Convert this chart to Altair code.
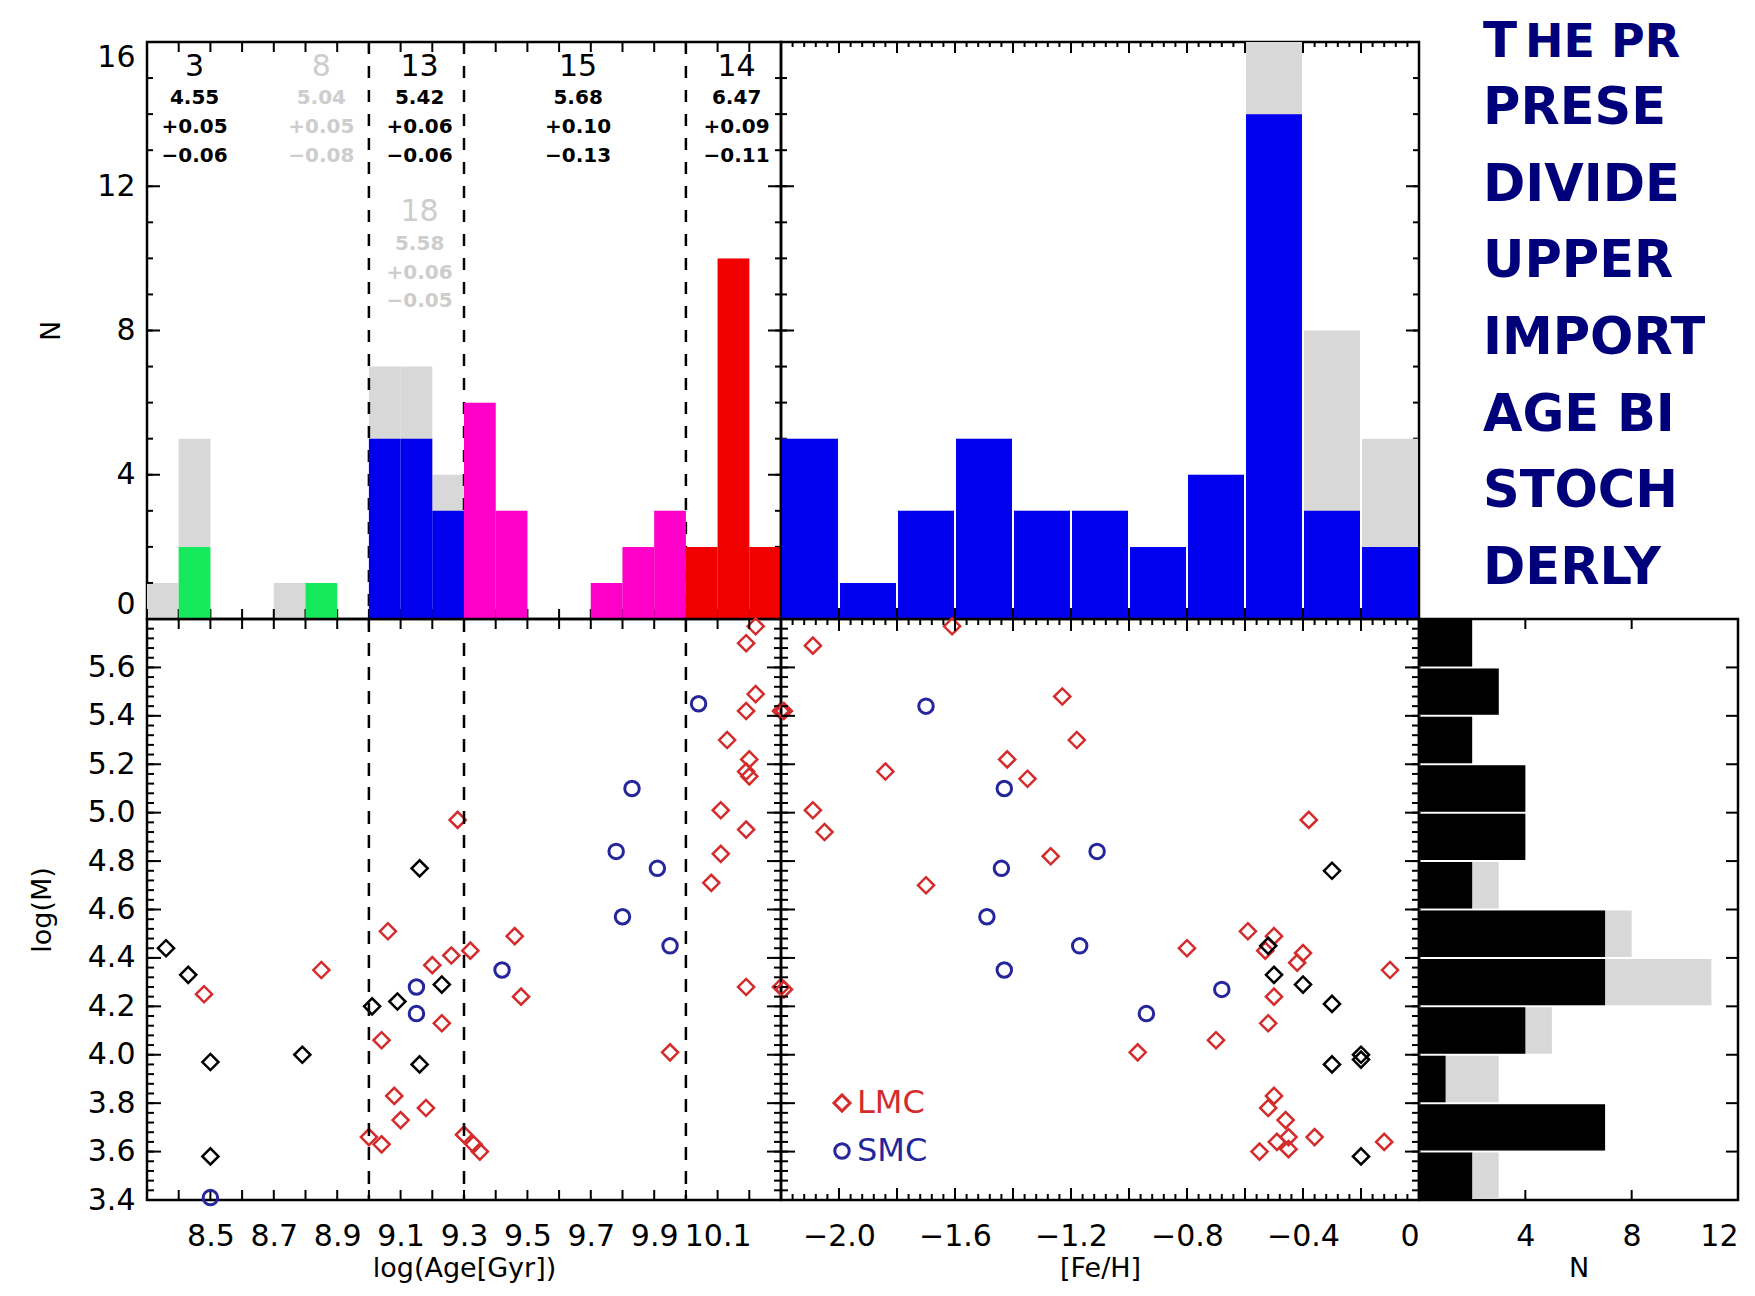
import altair as alt
import numpy as np
import pandas as pd

FONT = "DejaVu Sans"
GRAY = "#d8d8d8"
BLUE = "#0000ee"
RED_PT = "#d42c2c"
BLUE_PT = "#26269c"
NAVY = "#00007a"

# ---------------- age histogram (top left) ----------------
age_bin_lo = [8.3, 8.4, 8.5, 8.6, 8.7, 8.8, 8.9, 9.0, 9.1, 9.2,
              9.3, 9.4, 9.5, 9.6, 9.7, 9.8, 9.9, 10.0, 10.1, 10.2]
age_all_n = [1, 5, 0, 0, 1, 1, 0, 7, 7, 4, 6, 3, 0, 0, 1, 2, 3, 2, 10, 2]
age_sel_n = [0, 2, 0, 0, 0, 1, 0, 5, 5, 3, 6, 3, 0, 0, 1, 2, 3, 2, 10, 2]
age_group = ["young"] * 7 + ["inter"] * 3 + ["old"] * 7 + ["oldest"] * 3
group_names = ["young", "inter", "old", "oldest"]
group_colors = ["#14ea5c", "#0000ee", "#ff00c8", "#f20000"]
age_bounds = [9.0, 9.3, 10.0]

# annotations in the age histogram
ann_age = [8.45, 8.85, 9.16, 9.16, 9.66, 10.16]
ann_n = ["3", "8", "13", "18", "15", "14"]
ann_mass = ["4.55", "5.04", "5.42", "5.58", "5.68", "6.47"]
ann_plus = ["+0.05", "+0.05", "+0.06", "+0.06", "+0.10", "+0.09"]
ann_minus = ["\u22120.06", "\u22120.08", "\u22120.06", "\u22120.05", "\u22120.13", "\u22120.11"]
ann_tone = ["main", "faint", "main", "faint", "main", "main"]
ann_tier = [0, 0, 0, 1, 0, 0]

# ---------------- [Fe/H] histogram (top middle) ----------------
feh_bin_lo = [-2.2, -2.0, -1.8, -1.6, -1.4, -1.2, -1.0, -0.8, -0.6, -0.4, -0.2]
feh_all_n = [5, 1, 3, 5, 3, 3, 2, 4, 16, 8, 5]
feh_sel_n = [5, 1, 3, 5, 3, 3, 2, 4, 14, 3, 2]

# ---------------- log(M) histogram (bottom right) ----------------
mass_bin_lo = [3.4, 3.6, 3.8, 4.0, 4.2, 4.4, 4.6, 4.8, 5.0, 5.2, 5.4, 5.6]
mass_all_n = [3, 7, 3, 5, 11, 8, 3, 4, 4, 2, 3, 2]
mass_sel_n = [2, 7, 1, 4, 7, 7, 2, 4, 4, 2, 3, 2]

# ---------------- scatter: log(M) vs log(Age) ----------------
age_lmc_age = [8.48, 8.85, 9.28, 9.06, 9.20, 9.26, 9.32, 9.23, 9.04, 9.08, 9.10, 9.18,
               9.00, 9.04, 9.30, 9.33, 9.35, 9.46, 9.48, 9.95, 10.19, 10.22, 10.22,
               10.19, 10.13, 10.20, 10.19, 10.20, 10.11, 10.19, 10.11, 10.08, 10.19,
               10.30, 10.30]
age_lmc_m = [4.25, 4.35, 4.97, 4.51, 4.37, 4.41, 4.43, 4.13, 4.06, 3.83, 3.73, 3.78,
             3.66, 3.63, 3.67, 3.63, 3.60, 4.49, 4.24, 4.01, 5.70, 5.77, 5.49,
             5.42, 5.30, 5.22, 5.17, 5.15, 5.01, 4.93, 4.83, 4.71, 4.28,
             5.42, 4.28]
age_smc_age = [8.50, 9.15, 9.15, 9.42, 9.83, 9.78, 9.91, 9.80, 9.95, 10.04]
age_smc_m = [3.41, 4.28, 4.17, 4.35, 5.10, 4.84, 4.77, 4.57, 4.45, 5.45]
age_oth_age = [8.36, 8.43, 8.50, 8.50, 8.79, 9.01, 9.09, 9.16, 9.23, 9.16]
age_oth_m = [4.44, 4.33, 3.97, 3.58, 4.00, 4.20, 4.22, 4.77, 4.29, 3.96]

# ---------------- scatter: log(M) vs [Fe/H] ----------------
feh_lmc_feh = [-2.09, -1.61, -1.84, -2.09, -2.05, -1.70, -1.23, -1.18, -1.42, -1.35,
               -1.27, -2.19, -2.19, -0.38, -0.59, -0.50, -0.80, -0.40, -0.42, -0.53,
               -0.10, -0.50, -0.52, -0.70, -0.97, -0.50, -0.52, -0.46, -0.36, -0.45,
               -0.49, -0.45, -0.55, -0.12]
feh_lmc_m = [5.69, 5.77, 5.17, 5.01, 4.92, 4.70, 5.48, 5.30, 5.22, 5.14,
             4.82, 5.42, 4.27, 4.97, 4.51, 4.49, 4.44, 4.42, 4.38, 4.43,
             4.35, 4.24, 4.13, 4.06, 4.01, 3.83, 3.78, 3.73, 3.66, 3.66,
             3.64, 3.61, 3.60, 3.64]
feh_smc_feh = [-1.70, -1.43, -1.44, -1.49, -1.43, -1.11, -1.17, -0.94, -0.68]
feh_smc_m = [5.44, 5.10, 4.77, 4.57, 4.35, 4.84, 4.45, 4.17, 4.27]
feh_oth_feh = [-0.30, -0.52, -0.50, -0.40, -0.30, -0.30, -0.20, -0.20, -0.20]
feh_oth_m = [4.76, 4.45, 4.33, 4.29, 4.21, 3.96, 4.00, 3.98, 3.58]

legend_labels = ["LMC", "SMC"]

# ---------------- side text ----------------
text_lines = ["THE PR", "PRESE", "DIVIDE", "UPPER", "IMPORT", "AGE BI", "STOCH", "DERLY"]

# ---------------- tick labels ----------------
ntop_labels = [0, 4, 8, 12, 16]
age_labels = [8.5, 8.7, 8.9, 9.1, 9.3, 9.5, 9.7, 9.9, 10.1]
feh_labels = [-2.0, -1.6, -1.2, -0.8, -0.4, 0.0]
mass_labels = [3.4, 3.6, 3.8, 4.0, 4.2, 4.4, 4.6, 4.8, 5.0, 5.2, 5.4, 5.6]
nright_labels = [0, 4, 8, 12]

# tick mark positions (axis decoration)
age_ticks = list(np.round(np.arange(8.3, 10.3001, 0.1), 2))
feh_major = list(np.round(np.arange(-2.2, 0.0001, 0.2), 2))
feh_minor = list(np.round(np.arange(-2.2, 0.0001, 0.04), 2))
mass_major = list(np.round(np.arange(3.4, 5.8001, 0.2), 2))
mass_minor = list(np.round(np.arange(3.4, 5.8001, 0.04), 2))
ntop_major = [0, 4, 8, 12, 16]
ntop_minor = list(range(0, 17))

AGE = alt.Scale(domain=[8.3, 10.3], nice=False, zero=False)
FEH = alt.Scale(domain=[-2.2, 0.0], nice=False, zero=False)
NTOP = alt.Scale(domain=[0, 16], nice=False, zero=False)
MASS = alt.Scale(domain=[3.4, 5.8], nice=False, zero=False)
NRIGHT = alt.Scale(domain=[0, 12], nice=False, zero=False)

W1, W2, W3, WT = 634, 638, 319, 320
H1, H2 = 577, 581


def ax(show):
    # layers of a panel whose axis is drawn must not switch it off
    return {} if show else {"axis": None}


def rules_x(vals, scale, length, H, show=False, sides=("top", "bottom"), sw=2):
    df = pd.DataFrame({"v": [float(v) for v in vals]})
    out = []
    for s in sides:
        y0, y1 = (0, length) if s == "top" else (H, H - length)
        out.append(alt.Chart(df).mark_rule(color="black", strokeWidth=sw).encode(
            x=alt.X("v:Q", scale=scale, **ax(show)), y=alt.value(y0), y2=alt.value(y1)))
    return out


def rules_y(vals, scale, length, W, show=False, sides=("left", "right"), sw=2):
    df = pd.DataFrame({"v": [float(v) for v in vals]})
    out = []
    for s in sides:
        x0, x1 = (0, length) if s == "left" else (W, W - length)
        out.append(alt.Chart(df).mark_rule(color="black", strokeWidth=sw).encode(
            y=alt.Y("v:Q", scale=scale, **ax(show)), x=alt.value(x0), x2=alt.value(x1)))
    return out


ax_common = dict(ticks=False, domain=False, grid=False, labelOverlap=False)

# ================= Panel A: age histogram =================
age_df = pd.DataFrame({"lo": age_bin_lo, "all": age_all_n, "sel": age_sel_n, "grp": age_group})
yA = alt.Axis(values=ntop_labels, title="N", labelFlush=True, labelPadding=12,
              titlePadding=31, **ax_common)
a_gray = alt.Chart(age_df).transform_calculate(hi="datum.lo + 0.1").mark_rect(color=GRAY).encode(
    x=alt.X("lo:Q", scale=AGE, axis=None), x2="hi:Q",
    y=alt.Y("all:Q", scale=NTOP, axis=yA), y2=alt.datum(0))
a_sel = alt.Chart(age_df).transform_calculate(hi="datum.lo + 0.1").mark_rect().encode(
    x=alt.X("lo:Q", scale=AGE, axis=None), x2="hi:Q",
    y=alt.Y("sel:Q", scale=NTOP), y2=alt.datum(0),
    color=alt.Color("grp:N", scale=alt.Scale(domain=group_names, range=group_colors), legend=None))
a_dash = alt.Chart(pd.DataFrame({"v": age_bounds})).mark_rule(
    color="black", strokeWidth=2.5, strokeDash=[12, 12]).encode(x=alt.X("v:Q", scale=AGE, axis=None))

ann_df = pd.DataFrame({"age": ann_age, "n": ann_n, "mass": ann_mass, "plus": ann_plus,
                       "minus": ann_minus, "tone": ann_tone, "tier": ann_tier})
rows = [("n", 30, "normal"), ("mass", 20, "bold"), ("plus", 20, "bold"), ("minus", 20, "bold")]
tier_y = {0: [25, 56, 84.5, 114], 1: [170, 202, 231, 259]}
tone_col = {"main": "black", "faint": "#cdcdcd"}
ann_layers = []
for tier, ys in tier_y.items():
    for tone, col in tone_col.items():
        for (field, fs, fw), yy in zip(rows, ys):
            ann_layers.append(
                alt.Chart(ann_df).transform_filter(
                    f"datum.tier == {tier} && datum.tone == '{tone}'"
                ).mark_text(font=FONT, fontSize=fs, fontWeight=fw, color=col,
                            align="center", baseline="middle").encode(
                    x=alt.X("age:Q", scale=AGE, axis=None), y=alt.value(yy), text=f"{field}:N"))

A_ticks = (rules_x(age_ticks, AGE, 10, H1) + rules_y(ntop_major, NTOP, 13, W1, show=True)
           + rules_y(ntop_minor, NTOP, 6, W1, show=True))
A = alt.layer(a_gray, *A_ticks, a_dash, a_sel, *ann_layers).properties(width=W1, height=H1)

# ================= Panel B: [Fe/H] histogram =================
feh_df = pd.DataFrame({"lo": feh_bin_lo, "all": feh_all_n, "sel": feh_sel_n})
b_gray = alt.Chart(feh_df).transform_calculate(hi="datum.lo + 0.2").mark_rect(
    color=GRAY, xOffset=1, x2Offset=-1).encode(
    x=alt.X("lo:Q", scale=FEH, axis=None), x2="hi:Q",
    y=alt.Y("all:Q", scale=NTOP, axis=None), y2=alt.datum(0))
b_sel = alt.Chart(feh_df).transform_calculate(hi="datum.lo + 0.2").mark_rect(
    color=BLUE, xOffset=1, x2Offset=-1).encode(
    x=alt.X("lo:Q", scale=FEH, axis=None), x2="hi:Q",
    y=alt.Y("sel:Q", scale=NTOP, axis=None), y2=alt.datum(0))
B_ticks = (rules_x(feh_major, FEH, 11, H1) + rules_x(feh_minor, FEH, 5, H1)
           + rules_y(ntop_major, NTOP, 13, W2) + rules_y(ntop_minor, NTOP, 6, W2))
B = alt.layer(*B_ticks, b_gray, b_sel).properties(width=W2, height=H1)

# ================= Panel C: side text =================
c_head = alt.Chart(pd.DataFrame({"t": [text_lines[0][0]]})).mark_text(
    font=FONT, fontSize=50, fontWeight="bold", color=NAVY, align="left", baseline="alphabetic").encode(
    x=alt.value(64), y=alt.value(15), text="t:N")
c_rest0 = alt.Chart(pd.DataFrame({"t": [text_lines[0][1:]]})).mark_text(
    font=FONT, fontSize=46, fontWeight="bold", color=NAVY, align="left", baseline="alphabetic").encode(
    x=alt.value(106), y=alt.value(15), text="t:N")
c_rest = alt.Chart(pd.DataFrame({"line": list(range(1, len(text_lines))), "t": text_lines[1:]})).mark_text(
    font=FONT, fontSize=51, fontWeight="bold", color=NAVY, align="left", baseline="alphabetic").encode(
    x=alt.value(64),
    y=alt.Y("line:Q", scale=alt.Scale(domain=[1, 7], range=[82, 542]), axis=None),
    text="t:N")
C = alt.layer(c_head, c_rest0, c_rest).properties(
    width=WT, height=H1, view=alt.ViewBackground(stroke="transparent"))

# ================= Panel D: log(M) vs log(Age) =================
xD = alt.Axis(values=age_labels, format=".1f", title="log(Age[Gyr])", labelPadding=21,
              titlePadding=4, **ax_common)
yD = alt.Axis(values=mass_labels, format=".1f", title="log(M)", labelPadding=12,
              titlePadding=31, **ax_common)
d_red = alt.Chart(pd.DataFrame({"x": age_lmc_age, "m": age_lmc_m})).mark_point(
    shape="diamond", filled=False, size=260, strokeWidth=2.5, color=RED_PT, opacity=1).encode(
    x=alt.X("x:Q", scale=AGE, axis=xD), y=alt.Y("m:Q", scale=MASS, axis=yD))
d_blk = alt.Chart(pd.DataFrame({"x": age_oth_age, "m": age_oth_m})).mark_point(
    shape="diamond", filled=False, size=260, strokeWidth=2.5, color="black", opacity=1).encode(
    x=alt.X("x:Q", scale=AGE), y=alt.Y("m:Q", scale=MASS))
d_blu = alt.Chart(pd.DataFrame({"x": age_smc_age, "m": age_smc_m})).mark_point(
    shape="circle", filled=False, size=210, strokeWidth=3, color=BLUE_PT, opacity=1).encode(
    x=alt.X("x:Q", scale=AGE), y=alt.Y("m:Q", scale=MASS))
d_dash = alt.Chart(pd.DataFrame({"v": age_bounds})).mark_rule(
    color="black", strokeWidth=2.5, strokeDash=[13, 11]).encode(x=alt.X("v:Q", scale=AGE))
D_ticks = (rules_x(age_ticks, AGE, 10, H2, show=True) + rules_y(mass_major, MASS, 14, W1, show=True)
           + rules_y(mass_minor, MASS, 7, W1, show=True))
D = alt.layer(d_red, *D_ticks, d_dash, d_blk, d_blu).properties(width=W1, height=H2)

# ================= Panel E: log(M) vs [Fe/H] =================
xE = alt.Axis(values=feh_labels, labelExpr="datum.value == 0 ? '0' : format(datum.value, '.1f')",
              title="[Fe/H]", labelPadding=21, titlePadding=4, **ax_common)
e_red = alt.Chart(pd.DataFrame({"x": feh_lmc_feh, "m": feh_lmc_m})).mark_point(
    shape="diamond", filled=False, size=260, strokeWidth=2.5, color=RED_PT, opacity=1).encode(
    x=alt.X("x:Q", scale=FEH, axis=xE), y=alt.Y("m:Q", scale=MASS, axis=None))
e_blk = alt.Chart(pd.DataFrame({"x": feh_oth_feh, "m": feh_oth_m})).mark_point(
    shape="diamond", filled=False, size=260, strokeWidth=2.5, color="black", opacity=1).encode(
    x=alt.X("x:Q", scale=FEH), y=alt.Y("m:Q", scale=MASS, axis=None))
e_blu = alt.Chart(pd.DataFrame({"x": feh_smc_feh, "m": feh_smc_m})).mark_point(
    shape="circle", filled=False, size=210, strokeWidth=3, color=BLUE_PT, opacity=1).encode(
    x=alt.X("x:Q", scale=FEH), y=alt.Y("m:Q", scale=MASS, axis=None))
leg_layers = []
for lab, shp, col, yy, sz in [(legend_labels[0], "diamond", RED_PT, 484, 260),
                              (legend_labels[1], "circle", BLUE_PT, 532, 210)]:
    one = pd.DataFrame({"t": [lab]})
    leg_layers.append(alt.Chart(one).mark_point(shape=shp, filled=False, size=sz, strokeWidth=3,
                                                color=col, opacity=1).encode(
        x=alt.value(61), y=alt.value(yy)))
    leg_layers.append(alt.Chart(one).mark_text(font=FONT, fontSize=32, color=col, align="left",
                                               baseline="middle").encode(
        x=alt.value(76), y=alt.value(yy), text="t:N"))
E_ticks = (rules_x(feh_major, FEH, 12, H2, show=True) + rules_x(feh_minor, FEH, 6, H2, show=True)
           + rules_y(mass_major, MASS, 14, W2) + rules_y(mass_minor, MASS, 7, W2))
E = alt.layer(e_red, *E_ticks, e_blk, e_blu, *leg_layers).properties(width=W2, height=H2)

# ================= Panel F: log(M) histogram =================
xF = alt.Axis(values=nright_labels, labelExpr="datum.value == 0 ? '' : datum.label",
              labelFlush=True, title="N", labelPadding=21, titlePadding=4, **ax_common)
mass_df = pd.DataFrame({"lo": mass_bin_lo, "all": mass_all_n, "sel": mass_sel_n})
f_gray = alt.Chart(mass_df).transform_calculate(hi="datum.lo + 0.2").mark_rect(
    color=GRAY, yOffset=-1, y2Offset=1).encode(
    y=alt.Y("lo:Q", scale=MASS, axis=None), y2="hi:Q",
    x=alt.X("all:Q", scale=NRIGHT, axis=xF), x2=alt.datum(0))
f_sel = alt.Chart(mass_df).transform_calculate(hi="datum.lo + 0.2").mark_rect(
    color="black", yOffset=-1, y2Offset=1).encode(
    y=alt.Y("lo:Q", scale=MASS, axis=None), y2="hi:Q",
    x=alt.X("sel:Q", scale=NRIGHT), x2=alt.datum(0))
F_ticks = (rules_y(mass_major, MASS, 12, W3, sides=("right",))
           + rules_x([4, 8], NRIGHT, 10, H2, show=True))
F = alt.layer(f_gray, *F_ticks, f_sel).properties(width=W3, height=H2)

chart = alt.concat(A, B, C, D, E, F, columns=3, spacing=0, bounds="flush", align="each").properties(
    padding={"left": 19, "top": 7, "right": 0, "bottom": 0}
).configure_view(stroke="black", strokeWidth=2.5).configure_axis(
    labelFont=FONT, labelFontSize=30, labelColor="black",
    titleFont=FONT, titleFontSize=27, titleFontWeight="normal", titleColor="black")

chart.save("out.html", embed_options={"renderer": "svg", "actions": False})
